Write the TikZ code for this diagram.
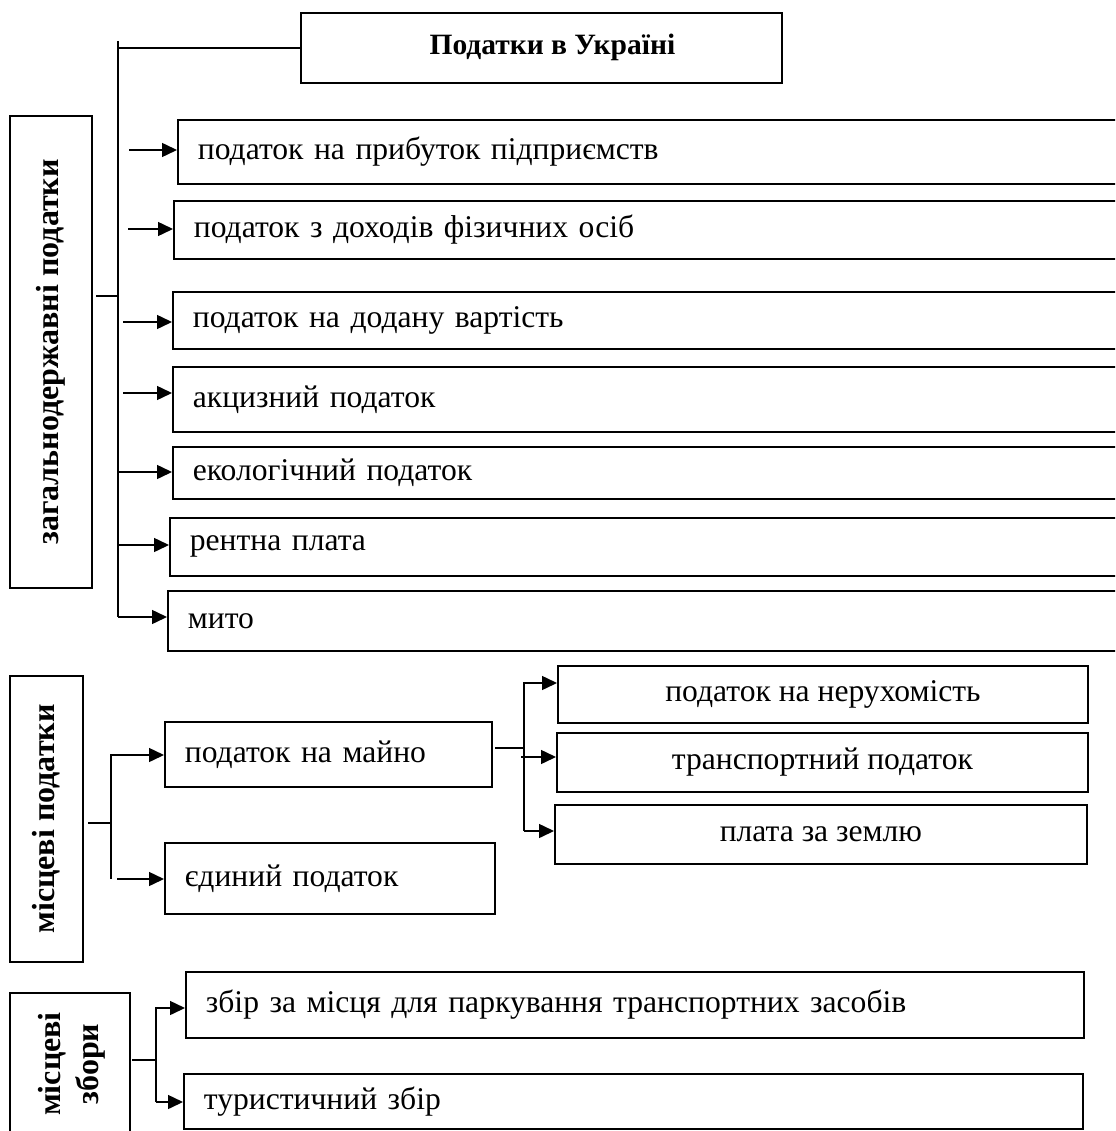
\documentclass[tikz,border=0pt]{standalone}
\usepackage{fontspec}
\setmainfont{Liberation Serif}
\usetikzlibrary{arrows.meta}
\begin{document}
\begin{tikzpicture}[x=1pt,y=-1pt,
 txt/.style={font=\fontsize{31.6}{37}\selectfont},
 box/.style={txt, draw, line width=1.8pt, anchor=north west, inner xsep=20pt, inner ysep=0pt, align=left},
 cbox/.style={txt, draw, line width=1.8pt, anchor=north west, inner sep=0pt, align=center},
 vbox/.style={draw, line width=1.8pt, rotate=90, inner sep=0pt, align=center, font=\fontsize{32}{38}\selectfont\bfseries},
 ln/.style={line width=1.5pt},
 arr/.style={line width=1.5pt, -{Triangle[length=15pt,width=14pt]}}]
\useasboundingbox (0,0) rectangle (1115,1131);
\clip (0,0) rectangle (1115,1131);

% title
\node[cbox, minimum width=481pt, minimum height=70pt, font=\fontsize{29.5}{34}\selectfont\bfseries] (t) at (300,12) {\hspace*{22pt}Податки в Україні};

% left vertical boxes
\node[vbox, minimum width=472pt, minimum height=82pt] (g) at (51,352) {загальнодержавні податки};
\node[vbox, minimum width=286pt, minimum height=73pt] (lp) at (46.5,819) {місцеві податки};
\node[vbox, minimum width=142pt, minimum height=120pt, text depth=3pt] (lz) at (70,1064) {місцеві\\збори};

% national taxes
\node[box, text width=918pt, minimum height=64pt] (p1) at (177,119) {податок на прибуток підприємств};
\node[box, text width=922pt, minimum height=58pt] (p2) at (173,200) {податок з доходів фізичних осіб};
\node[box, text width=923pt, minimum height=57pt] (p3) at (172,291) {податок на додану вартість};
\node[box, text width=923pt, minimum height=65pt] (p4) at (172,366) {акцизний податок};
\node[box, text width=923pt, minimum height=52pt] (p5) at (172,446) {екологічний податок};
\node[box, text width=926pt, minimum height=58pt] (p6) at (169,517) {рентна плата};
\node[box, text width=928pt, minimum height=60pt] (p7) at (167,590) {мито};

% local taxes
\node[box, text width=287pt, minimum height=65pt] (m1) at (164,721) {податок на майно};
\node[box, text width=290pt, minimum height=71pt] (m2) at (164,842) {єдиний податок};
\node[cbox, minimum width=530pt, minimum height=57pt] (r1) at (557,665) {податок на нерухомість};
\node[cbox, minimum width=531pt, minimum height=59pt] (r2) at (556,732) {транспортний податок};
\node[cbox, minimum width=532pt, minimum height=59pt] (r3) at (554,804) {плата за землю};

% local fees
\node[box, text width=858pt, minimum height=66pt] (z1) at (185,971) {збір за місця для паркування транспортних засобів};
\node[box, text width=859pt, minimum height=55pt] (z2) at (183,1073) {туристичний збір};

% national connectors
\coordinate (tt) at (118,41);
\coordinate (tb) at (118,617);
\coordinate (gs) at (96,296);
\draw[ln] (t.west) -- (t.west -| tt);
\draw[ln] (tt) -- (tb);
\draw[ln] (gs) -- (gs -| tt);
\coordinate (a1) at (129,150);
\coordinate (a2) at (128,229);
\coordinate (a3) at (123,322);
\coordinate (a4) at (123,393);
\coordinate (a5) at (118,472);
\coordinate (a6) at (118,545);
\draw[arr] (a1) -- (a1 -| p1.west);
\draw[arr] (a2) -- (a2 -| p2.west);
\draw[arr] (a3) -- (a3 -| p3.west);
\draw[arr] (a4) -- (a4 -| p4.west);
\draw[arr] (a5) -- (a5 -| p5.west);
\draw[arr] (a6) -- (a6 -| p6.west);
\draw[arr] (tb) -- (tb -| p7.west);

% local tax connectors
\coordinate (ls) at (88,823);
\coordinate (lt) at (111,755);
\coordinate (lb) at (111,879);
\coordinate (lb2) at (117,879);
\draw[ln] (ls) -- (ls -| lt);
\draw[arr] (lb) -- (lt) -- (lt -| m1.west);
\draw[arr] (lb2) -- (lb2 -| m2.west);

\coordinate (ms) at (495,748);
\coordinate (rt) at (524,683);
\coordinate (rb) at (524,831);
\coordinate (r2s) at (521,757);
\draw[ln] (ms) -- (ms -| rt);
\draw[arr] (rb) -- (rt) -- (rt -| r1.west);
\draw[arr] (r2s) -- (r2s -| r2.west);
\draw[arr] (rb) -- (rb -| r3.west);

% local fees connectors
\coordinate (zs) at (132,1060);
\coordinate (zt) at (156,1008);
\coordinate (zb) at (156,1102);
\draw[ln] (zs) -- (zs -| zt);
\draw[arr] (zb) -- (zt) -- (zt -| z1.west);
\draw[arr] (zb) -- (zb -| z2.west);
\end{tikzpicture}
\end{document}
